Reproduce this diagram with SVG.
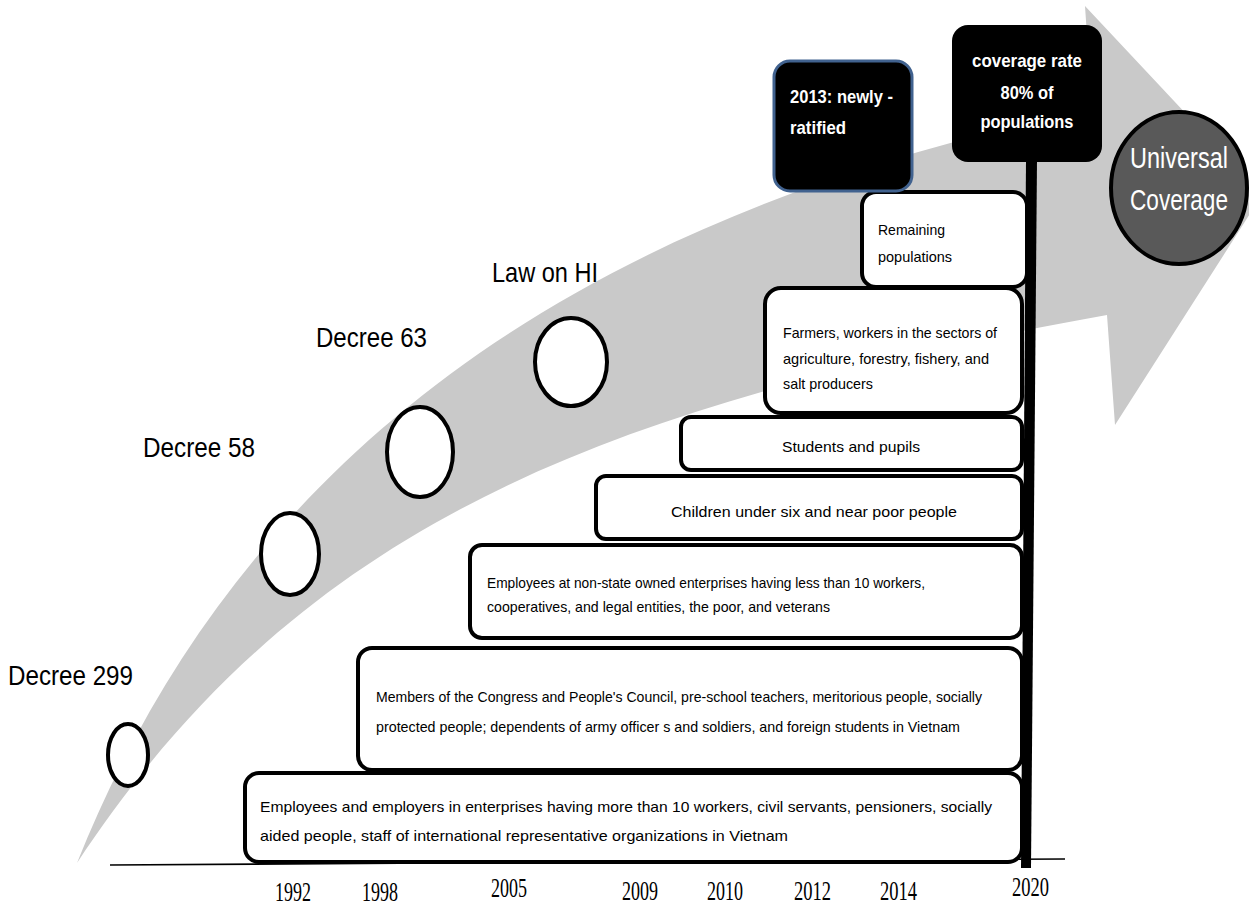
<svg xmlns="http://www.w3.org/2000/svg" width="1249" height="907" viewBox="0 0 1249 907" xml:space="preserve">
<defs>
<style>
.lbl{font-family:"Liberation Sans",Arial,sans-serif;font-size:28px;fill:#000}
.bt{font-family:"Liberation Sans",Arial,sans-serif;font-size:15px;fill:#000}
.box{fill:#fff;stroke:#000;stroke-width:4}
.ms{fill:#fff;stroke:#000;stroke-width:4}
.wb{font-family:"Liberation Sans",Arial,sans-serif;font-size:19px;font-weight:bold;fill:#fff}
.yr{font-family:"Liberation Serif","Times New Roman",serif;font-size:27px;fill:#000}
.uc{font-family:"Liberation Sans",Arial,sans-serif;font-size:30px;fill:#fff}
</style>
</defs>
<rect width="1249" height="907" fill="#fff"/>
<g id="arrow">
<path d="M77,863 C211,527 492,230 1092,110 L1085,6 L1262,195 L1115,425 L1107,315 C607,405 302,521 77,863 Z" fill="#c9c9c9"/>
</g>
<g id="connectors">
<line x1="110" y1="865" x2="1065" y2="859" stroke="#000" stroke-width="1.6"/>
</g>
<g id="decree299">
<ellipse class="ms" cx="128" cy="755" rx="20" ry="31"/>
<text class="lbl" x="8" y="685" textLength="125" lengthAdjust="spacingAndGlyphs">Decree 299</text>
</g>
<g id="decree58">
<ellipse class="ms" cx="290" cy="554" rx="29" ry="41"/>
<text class="lbl" x="143" y="457" textLength="112" lengthAdjust="spacingAndGlyphs">Decree 58</text>
</g>
<g id="decree63">
<ellipse class="ms" cx="420" cy="452" rx="33" ry="45"/>
<text class="lbl" x="316" y="347" textLength="111" lengthAdjust="spacingAndGlyphs">Decree 63</text>
</g>
<g id="lawHI">
<ellipse class="ms" cx="571" cy="362" rx="36" ry="44"/>
<text class="lbl" x="492" y="282" textLength="106" lengthAdjust="spacingAndGlyphs">Law on HI</text>
</g>
<g id="remaining">
<rect class="box" x="862" y="192" width="165" height="95" rx="14"/>
<text class="bt" x="878" y="235" textLength="67" lengthAdjust="spacingAndGlyphs">Remaining</text>
<text class="bt" x="878" y="262" textLength="74" lengthAdjust="spacingAndGlyphs">populations</text>
</g>
<g id="farmers">
<rect class="box" x="765" y="288" width="257" height="125" rx="16"/>
<text class="bt" x="783" y="338" textLength="214" lengthAdjust="spacingAndGlyphs">Farmers, workers in the sectors of</text>
<text class="bt" x="783" y="364" textLength="206" lengthAdjust="spacingAndGlyphs">agriculture, forestry, fishery, and</text>
<text class="bt" x="783" y="389" textLength="90" lengthAdjust="spacingAndGlyphs">salt producers</text>
</g>
<g id="students">
<rect class="box" x="681" y="417" width="341" height="53" rx="10"/>
<text class="bt" x="782" y="452" textLength="138" lengthAdjust="spacingAndGlyphs">Students and pupils</text>
</g>
<g id="children">
<rect class="box" x="596" y="476" width="426" height="63" rx="10"/>
<text class="bt" x="671" y="517" textLength="286" lengthAdjust="spacingAndGlyphs">Children under  six and near poor people</text>
</g>
<g id="employeesNonState">
<rect class="box" x="470" y="545" width="552" height="93" rx="12"/>
<text class="bt" x="487" y="588" textLength="438" lengthAdjust="spacingAndGlyphs">Employees at non-state owned enterprises having less than 10 workers,</text>
<text class="bt" x="487" y="612" textLength="343" lengthAdjust="spacingAndGlyphs">cooperatives, and legal entities, the poor, and veterans</text>
</g>
<g id="members">
<rect class="box" x="358" y="648" width="664" height="122" rx="14"/>
<text class="bt" x="376" y="702" textLength="606" lengthAdjust="spacingAndGlyphs">Members of the Congress and People's Council, pre-school teachers, meritorious people, socially</text>
<text class="bt" x="376" y="732" textLength="584" lengthAdjust="spacingAndGlyphs">protected people; dependents of army officer s and soldiers, and foreign students in Vietnam</text>
</g>
<g id="employees">
<rect class="box" x="245" y="773" width="777" height="89" rx="14"/>
<text class="bt" x="260" y="812" textLength="732" lengthAdjust="spacingAndGlyphs">Employees and employers in enterprises having more than 10 workers, civil servants, pensioners, socially</text>
<text class="bt" x="260" y="841" textLength="528" lengthAdjust="spacingAndGlyphs">aided people, staff of international representative organizations  in Vietnam</text>
</g>
<g id="bar">
<polygon points="1026,160 1037,160 1031,868 1021,868" fill="#000"/>
</g>
<g id="coverage">
<rect x="952" y="25" width="150" height="137" rx="16" fill="#000"/>
<text class="wb" x="1027" y="67" text-anchor="middle" textLength="110" lengthAdjust="spacingAndGlyphs">coverage  rate</text>
<text class="wb" x="1027" y="99" text-anchor="middle" textLength="53" lengthAdjust="spacingAndGlyphs">80% of</text>
<text class="wb" x="1027" y="128" text-anchor="middle" textLength="93" lengthAdjust="spacingAndGlyphs">populations</text>
</g>
<g id="ratified2013">
<rect x="774" y="61" width="138" height="130" rx="16" fill="#000" stroke="#41628f" stroke-width="3"/>
<text class="wb" x="790" y="103" textLength="103" lengthAdjust="spacingAndGlyphs">2013: newly -</text>
<text class="wb" x="790" y="134" textLength="56" lengthAdjust="spacingAndGlyphs">ratified</text>
</g>
<g id="universal">
<ellipse cx="1179" cy="188" rx="68" ry="76" fill="#595959" stroke="#000" stroke-width="4"/>
<text class="uc" x="1179" y="168" text-anchor="middle" textLength="98" lengthAdjust="spacingAndGlyphs">Universal</text>
<text class="uc" x="1179" y="210" text-anchor="middle" textLength="98" lengthAdjust="spacingAndGlyphs">Coverage</text>
</g>
<g id="years">
<text class="yr" x="275" y="901" textLength="36" lengthAdjust="spacingAndGlyphs">1992</text>
<text class="yr" x="362" y="901" textLength="36" lengthAdjust="spacingAndGlyphs">1998</text>
<text class="yr" x="491" y="897" textLength="36" lengthAdjust="spacingAndGlyphs">2005</text>
<text class="yr" x="622" y="900" textLength="36" lengthAdjust="spacingAndGlyphs">2009</text>
<text class="yr" x="707" y="900" textLength="36" lengthAdjust="spacingAndGlyphs">2010</text>
<text class="yr" x="794" y="900" textLength="37" lengthAdjust="spacingAndGlyphs">2012</text>
<text class="yr" x="880" y="900" textLength="37" lengthAdjust="spacingAndGlyphs">2014</text>
<text class="yr" x="1012" y="896" textLength="37" lengthAdjust="spacingAndGlyphs">2020</text>
</g>
</svg>
